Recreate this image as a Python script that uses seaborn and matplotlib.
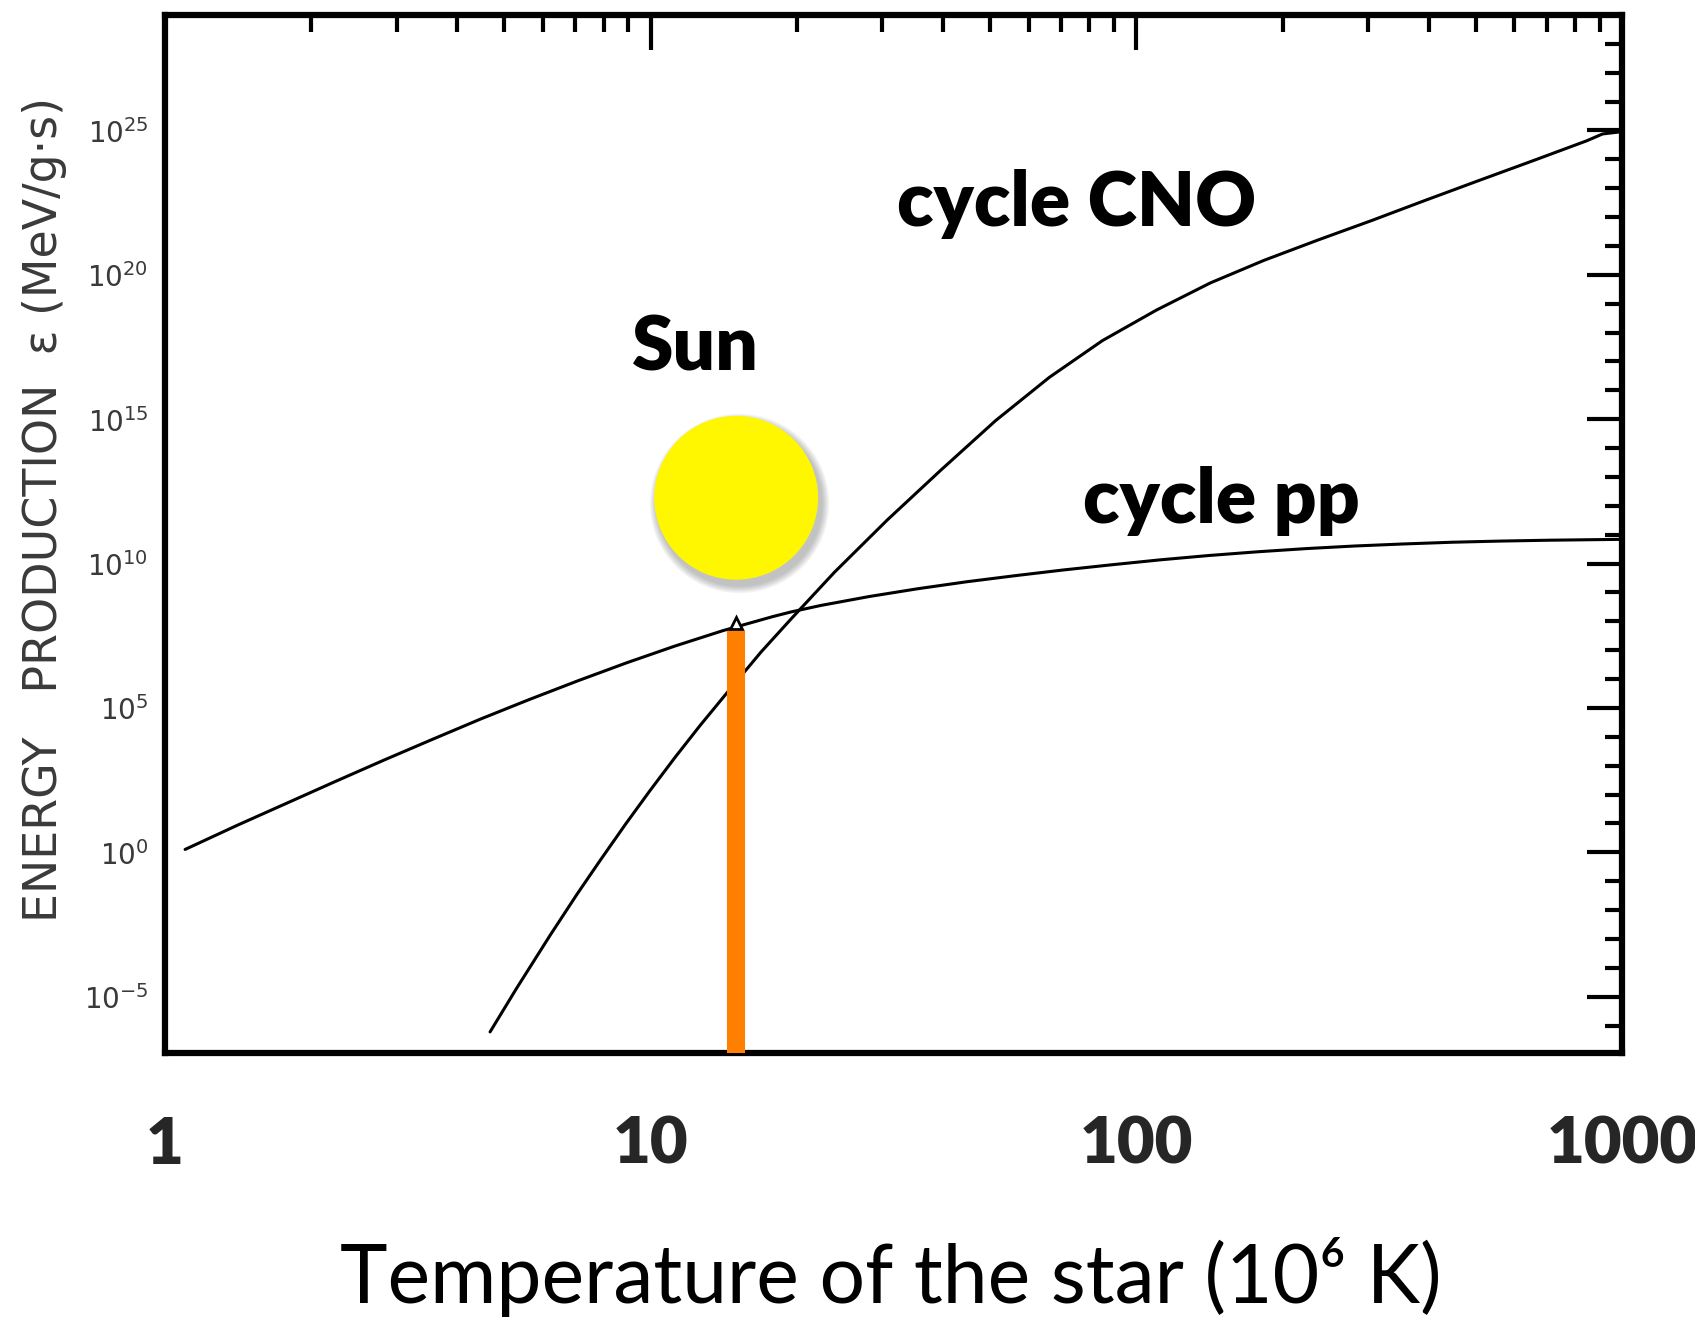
import numpy as np
import pandas as pd
import matplotlib
matplotlib.use("Agg")
import matplotlib.pyplot as plt
from matplotlib import transforms
from matplotlib.ticker import FixedLocator, FuncFormatter, NullFormatter
import seaborn as sns

# Temperature of the star in units of 10^6 K
pp_T = [1.10, 1.41, 1.78, 2.24, 2.82, 3.55, 4.47, 5.62, 7.08, 8.91, 11.2, 14.1, 17.8, 19.5,
        22.4, 28.2, 35.5, 44.7, 56.2, 70.8, 89.1, 112, 141, 178, 224, 282, 355, 447, 562,
        708, 891, 1000]
# log10 of the energy production (MeV / g s) for the proton-proton chain
pp_log_eps = [0.10, 0.94, 1.70, 2.45, 3.19, 3.91, 4.62, 5.29, 5.94, 6.56, 7.14, 7.68, 8.16,
              8.33, 8.55, 8.86, 9.13, 9.37, 9.58, 9.78, 9.96, 10.13, 10.28, 10.41, 10.52,
              10.61, 10.68, 10.74, 10.78, 10.81, 10.83, 10.84]

cno_T = [4.67, 5.30, 6.21, 7.06, 7.87, 8.89, 9.98, 11.25, 12.65, 14.4, 16.9, 19.5, 23.9,
         30.7, 39.6, 51.3, 66.2, 85.1, 110, 142, 183, 236, 305, 392, 506, 655, 845, 912,
         1000]
# log10 of the energy production (MeV / g s) for the CNO cycle
cno_log_eps = [-6.22, -4.70, -2.87, -1.44, -0.28, 0.99, 2.15, 3.31, 4.40, 5.55, 6.95, 8.10,
               9.70, 11.51, 13.24, 14.95, 16.45, 17.72, 18.78, 19.72, 20.50, 21.20, 21.88,
               22.57, 23.26, 23.95, 24.64, 24.88, 24.96]

# The Sun: core temperature, bar height, marker on the pp curve and disc position
sun_T = 15.0
sun_bar_log_eps = 7.65
sun_marker_log_eps = 7.95
sun_disc_log_eps = 12.28

x_ticks = [1, 10, 100, 1000]
x_tick_labels = ["1", "10", "100", "1000"]
y_major_exps = [-5, 0, 5, 10, 15, 20, 25]
y_minor_exps = list(range(-7, 30))

W, H = 1695, 1321
sns.set_theme(style="white")
plt.rcParams["font.family"] = ["Lato", "DejaVu Sans"]

fig = plt.figure(figsize=(W / 100, H / 100), dpi=100)
ax = fig.add_axes([165 / W, 1 - 1053 / H, (1622 - 165) / W, (1053 - 15) / H])
ax.set_xscale("log")
ax.set_yscale("log")
ymin, ymax = 10 ** -6.95, 10 ** 29.0
ax.set_xlim(1, 1000)
ax.set_ylim(ymin, ymax)
ax.set_facecolor("white")

pp = pd.DataFrame({"T": pp_T, "eps": 10.0 ** np.array(pp_log_eps)})
cno = pd.DataFrame({"T": cno_T, "eps": 10.0 ** np.array(cno_log_eps)})
sns.lineplot(data=pp, x="T", y="eps", ax=ax, color="black", lw=2.2,
             sort=False, estimator=None, zorder=3)
sns.lineplot(data=cno, x="T", y="eps", ax=ax, color="black", lw=2.2,
             sort=False, estimator=None, zorder=3)

# orange bar marking the solar core temperature
ax.vlines(sun_T, ymin, 10 ** sun_bar_log_eps, colors="#FF7F00", lw=13,
          capstyle="butt", zorder=4)
ax.plot([sun_T], [10 ** sun_marker_log_eps], marker="^", ms=9, mfc="white",
        mec="black", mew=2, zorder=5)

# Sun disc with a soft drop shadow
sun = pd.DataFrame({"T": [sun_T], "eps": [10 ** sun_disc_log_eps]})
disc_pt = 118
shift = transforms.offset_copy(ax.transData, fig=fig, x=3, y=-5, units="dots")
for i in range(7):
    ax.scatter(sun["T"], sun["eps"], s=(disc_pt + 1.6 * (7 - i)) ** 2, color="#555555",
               alpha=0.06, lw=0, transform=shift, zorder=5)
sns.scatterplot(data=sun, x="T", y="eps", ax=ax, s=disc_pt ** 2, color="#FFF700",
                edgecolor="none", linewidth=0, zorder=6, legend=False)

# annotations
bold = dict(fontsize=54, fontweight="heavy", color="black", ha="left", va="baseline")
ax.text(32.2, 10 ** 21.70, "cycle CNO", **bold)
ax.text(77.8, 10 ** 11.41, "cycle pp", **bold)
ax.text(9.16, 10 ** 16.68, "Sun", **bold)

# axes frame and ticks
for sp in ax.spines.values():
    sp.set_visible(True)
    sp.set_color("black")
    sp.set_linewidth(4.5)

ax.xaxis.set_major_locator(FixedLocator(x_ticks))
ax.set_xticklabels(x_tick_labels)
ax.yaxis.set_major_locator(FixedLocator([10.0 ** e for e in y_major_exps]))
ax.yaxis.set_minor_locator(FixedLocator([10.0 ** e for e in y_minor_exps]))
ax.yaxis.set_major_formatter(FuncFormatter(lambda v, p: r"$10^{%d}$" % round(np.log10(v))))
ax.yaxis.set_minor_formatter(NullFormatter())
ax.xaxis.set_minor_formatter(NullFormatter())

ax.tick_params(which="both", direction="in", top=True, right=True, color="black")
ax.tick_params(which="major", length=25, width=3)
ax.tick_params(which="minor", length=12, width=3)
ax.tick_params(axis="x", which="major", pad=45, labelsize=47)
ax.tick_params(axis="y", which="major", pad=12, labelsize=20, labelcolor="#3a3a3a")
for lab in ax.get_xticklabels():
    lab.set_fontweight("heavy")

ax.set_xlabel("")
ax.set_ylabel("")
ax.grid(False)

fig.text(891 / W, 1 - 1303 / H, "Temperature of the star (10\u2076 K)", fontsize=58,
         ha="center", va="baseline", color="black")
fig.text(45 / W, 1 - 510 / H, "ENERGY   PRODUCTION  \u03b5 (MeV/g\u00b7s)", fontsize=33,
         rotation=90, ha="center", va="center", color="#3a3a3a",
         family=["DejaVu Sans"])

fig.savefig("out.png", dpi=100, facecolor="white")
